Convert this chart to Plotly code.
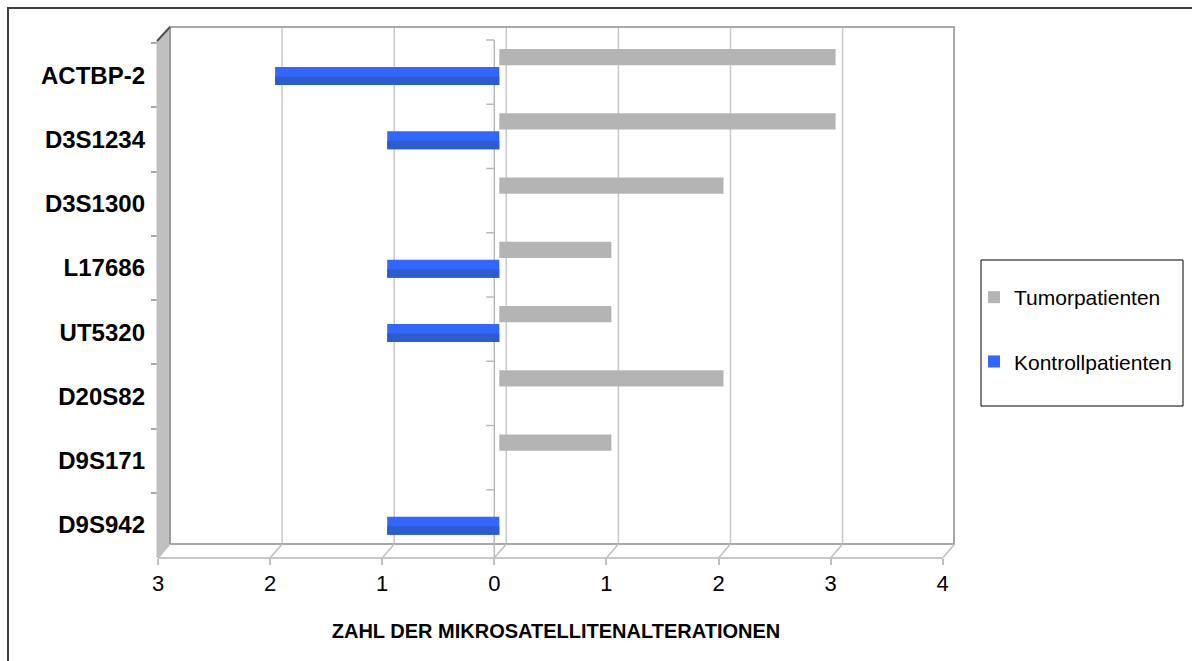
import plotly.graph_objects as go

# ---------------- data ----------------
categories = ["ACTBP-2", "D3S1234", "D3S1300", "L17686", "UT5320", "D20S82", "D9S171", "D9S942"]
tumor = [3, 3, 2, 1, 1, 2, 1, 0]
kontroll = [2, 1, 0, 1, 1, 0, 0, 1]
x_ticks = [-3, -2, -1, 0, 1, 2, 3, 4]
x_ticktext = [str(abs(v)) for v in x_ticks]
series_names = ["Tumorpatienten", "Kontrollpatienten"]
x_title = "ZAHL DER MIKROSATELLITENALTERATIONEN"

# ---------------- geometry ----------------
W, H = 1192, 661
ML, MR, MT, MB = 158, 238, 27, 103
PW, PH = W - ML - MR, H - MT - MB
UNIT = 112.1            # px per unit
DX, DY = 12, 14         # 3D depth offset of the back wall
BAR_DX = 5              # bars sit at mid depth
BAND = 64.25
FRONT_TOP = 43

# main axis carries the bars (mid depth); ticks are placed at front positions
x_range = [x_ticks[0] - BAR_DX / UNIT, x_ticks[0] - BAR_DX / UNIT + PW / UNIT]
tick_pos = [v - BAR_DX / UNIT for v in x_ticks]
n = len(categories)
y_top = -0.5 - (FRONT_TOP - MT) / BAND
y_bot = y_top + PH / BAND
y_range = [y_bot, y_top]


def X(px):
    return (px - ML) / PW


def Y(py):
    return (H - MB - py) / PH


def fx(v):  # front axis pixel
    return ML + (v - x_ticks[0]) * UNIT


def fy(c):  # front pixel of category index (float)
    return FRONT_TOP + (c + 0.5) * BAND


floor_front = H - MB
floor_back = floor_front - DY
wall_left = ML + DX
wall_right = ML + PW
wall_top = MT

BLUE = "#3366FF"
BLUE_DARK = "#2E5CCC"
GREY = "#B4B4B4"
EDGE = "#A8A8A8"
GRID = "#C8C8C8"

neg_kontroll = [-v for v in kontroll]

fig = go.Figure()
fig.add_trace(go.Bar(
    name=series_names[0], y=categories, x=tumor, orientation="h",
    offset=-0.405, width=0.25, marker=dict(color=GREY, line=dict(width=0)),
    legendgroup="t", legendrank=1))
fig.add_trace(go.Bar(
    name=series_names[1], y=categories, x=neg_kontroll, orientation="h",
    offset=-0.125, width=0.28, marker=dict(color=BLUE, line=dict(width=0)),
    legendgroup="k", legendrank=2))
fig.add_trace(go.Bar(
    name=series_names[1], y=categories, x=neg_kontroll, orientation="h",
    offset=0.02, width=0.135, marker=dict(color=BLUE_DARK, line=dict(width=0)),
    showlegend=False, legendgroup="k", hoverinfo="skip"))

shapes = []
# back gridlines
for v in x_ticks[1:-1]:
    shapes.append(dict(type="line", xref="paper", yref="paper", layer="below",
                       x0=X(fx(v) + DX), x1=X(fx(v) + DX), y0=Y(floor_back), y1=Y(wall_top),
                       line=dict(color=GRID, width=1.5)))
# back wall border
shapes.append(dict(type="path", xref="paper", yref="paper", layer="below",
                   path=f"M {X(wall_left)},{Y(floor_back)} L {X(wall_left)},{Y(wall_top)} "
                        f"L {X(wall_right)},{Y(wall_top)} L {X(wall_right)},{Y(floor_back)} "
                        f"L {X(wall_left)},{Y(floor_back)}",
                   line=dict(color=EDGE, width=2)))
# floor front line
shapes.append(dict(type="line", xref="paper", yref="paper", layer="below",
                   x0=X(fx(x_ticks[0])), x1=X(fx(x_ticks[-1])), y0=Y(floor_front), y1=Y(floor_front),
                   line=dict(color=GRID, width=2)))
# slanted floor connectors
for v in x_ticks:
    shapes.append(dict(type="line", xref="paper", yref="paper", layer="below",
                       x0=X(fx(v)), x1=X(fx(v) + DX), y0=Y(floor_front), y1=Y(floor_back),
                       line=dict(color="#C0C0C0", width=1.5)))
# vertical category axis at zero with boundary ticks
z = fx(0)
shapes.append(dict(type="line", xref="paper", yref="paper", layer="below",
                   x0=X(z), x1=X(z), y0=Y(floor_front), y1=Y(fy(-0.5) - 3),
                   line=dict(color="#B8B8B8", width=1.5)))
for i in range(n):
    yy = fy(i - 0.5) - 3
    shapes.append(dict(type="line", xref="paper", yref="paper", layer="below",
                       x0=X(z - 8), x1=X(z), y0=Y(yy), y1=Y(yy),
                       line=dict(color="#B8B8B8", width=1.5)))
# left side wall
shapes.append(dict(type="path", xref="paper", yref="paper", layer="above",
                   path=f"M {X(ML - 1)},{Y(floor_front)} L {X(ML - 1)},{Y(wall_top + DY)} "
                        f"L {X(wall_left)},{Y(wall_top)} L {X(wall_left)},{Y(floor_back)} Z",
                   fillcolor="#C0C0C0", line=dict(color="#C0C0C0", width=1)))
shapes.append(dict(type="line", xref="paper", yref="paper", layer="above",
                   x0=X(wall_left), x1=X(wall_left), y0=Y(floor_back), y1=Y(wall_top),
                   line=dict(color="#909090", width=1.5)))
shapes.append(dict(type="line", xref="paper", yref="paper", layer="above",
                   x0=X(ML - 1), x1=X(wall_left), y0=Y(wall_top + DY), y1=Y(wall_top),
                   line=dict(color="#505050", width=2)))
# legend box
shapes.append(dict(type="rect", xref="paper", yref="paper", layer="above",
                   x0=X(981), x1=X(1183), y0=Y(406), y1=Y(260),
                   line=dict(color="black", width=1), fillcolor="rgba(0,0,0,0)"))
# outer chart frame
shapes.append(dict(type="path", xref="paper", yref="paper", layer="above",
                   path=f"M {X(8)},{Y(H + 5)} L {X(8)},{Y(8)} L {X(W + 5)},{Y(8)}",
                   line=dict(color="#404040", width=2)))

fig.update_layout(
    width=W, height=H,
    margin=dict(l=ML, r=MR, t=MT, b=MB, autoexpand=False),
    paper_bgcolor="white", plot_bgcolor="rgba(0,0,0,0)",
    barmode="overlay",
    font=dict(family="Liberation Sans, Arial, sans-serif", color="black"),
    showlegend=True,
    legend=dict(x=X(974), y=Y(277), xanchor="left", yanchor="top",
                bgcolor="rgba(0,0,0,0)", borderwidth=0,
                font=dict(size=21, family="Liberation Sans, Arial, sans-serif"),
                tracegroupgap=34, traceorder="grouped", itemwidth=30),
    xaxis=dict(range=x_range, tickvals=tick_pos, ticktext=x_ticktext,
               showgrid=False, zeroline=False, showline=False,
               ticks="outside", ticklen=6, tickcolor="#C0C0C0", tickwidth=1.5,
               ticklabelstandoff=0,
               tickfont=dict(size=22),
               title=dict(text=x_title, standoff=28,
                          font=dict(size=20, family="Liberation Sans, Arial", weight="bold"))),
    yaxis=dict(type="category", categoryorder="array", categoryarray=categories,
               range=y_range, tickson="boundaries", ticks="outside", ticklen=6,
               tickcolor="#A8A8A8", tickwidth=1.5, showgrid=False, zeroline=False,
               showline=False, ticklabelstandoff=12,
               tickfont=dict(size=24, family="Liberation Sans, Arial", weight="bold")),
    shapes=shapes,
)

fig.write_html("out.html")
